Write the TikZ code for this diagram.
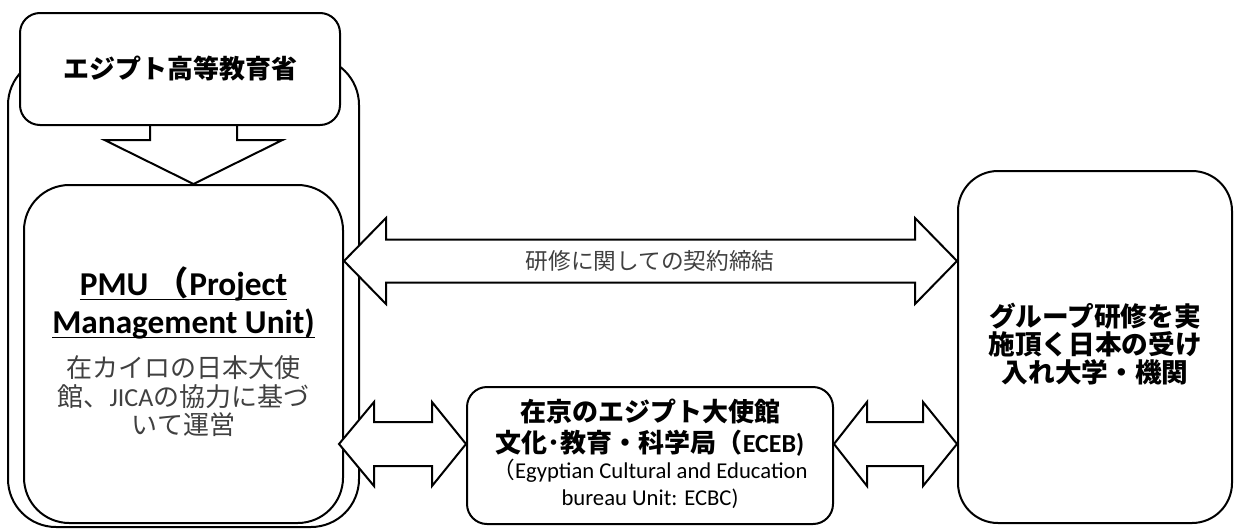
\documentclass[tikz,border=0pt]{standalone}
\usepackage{fontspec}
\setmainfont{Carlito}
\newfontfamily\jp{Noto Sans CJK JP}
\definecolor{txtgray}{HTML}{404040}
\newcommand\myul[1]{\setbox0=\hbox{#1}\rlap{\rule[-3.6pt]{\wd0}{1.3pt}}\box0}
\newcommand\dblarrow[6]{%
  \draw[blockarrow] (#1) -- ([shift={(#3,-#5)}]#1) -- ([shift={(#3,-#6)}]#1)
    -- ([shift={(-#4,-#6)}]#2) -- ([shift={(-#4,-#5)}]#2) -- (#2)
    -- ([shift={(-#4,#5)}]#2) -- ([shift={(-#4,#6)}]#2)
    -- ([shift={(#3,#6)}]#1) -- ([shift={(#3,#5)}]#1) -- cycle;}
\begin{document}
\begin{tikzpicture}[x=0.75pt,y=-0.75pt,
  box/.style={draw=black,line width=1.5pt,fill=white,inner sep=0pt},
  blockarrow/.style={draw=black,line width=1.5pt,fill=white,line join=miter},
  txt/.style={inner sep=0pt,align=center}
]
\useasboundingbox (0,0) rectangle (1234,529);
% outer frame
\node[box,rounded corners=36pt,minimum width=263.25pt,minimum height=352.5pt] (outer) at (183.5,292) {};
% down block arrow
\coordinate (dtop) at (193.5,125);
\coordinate (dtip) at (193.5,184);
\draw[blockarrow] ([shift={(-43.5,0)}]dtop) -- ([shift={(-43.5,15)}]dtop) -- ([shift={(-89,15)}]dtop)
  -- (dtip) -- ([shift={(89,15)}]dtop) -- ([shift={(43.5,15)}]dtop) -- ([shift={(43.5,0)}]dtop);
% ministry
\node[box,rounded corners=15pt,minimum width=240pt,minimum height=84pt,
  font={\jp\bfseries\fontsize{19.5pt}{23pt}\selectfont}] (moe) at (180,69) {エジプト高等教育省};
% PMU box
\node[box,rounded corners=34pt,minimum width=239.25pt,minimum height=253.5pt] (pmu) at (183.5,354) {};
% university box
\node[box,rounded corners=30pt,minimum width=205.5pt,minimum height=264pt,align=center,
  font={\jp\bfseries\fontsize{20pt}{21pt}\selectfont}] (univ) at (1095,347) {};
\node[txt,font={\jp\bfseries\fontsize{20pt}{21pt}\selectfont}] (univtext) at (1095,344)
  {グループ研修を実\\施頂く日本の受け\\入れ大学・機関};
% ECEB box
\node[box,rounded corners=15pt,minimum width=274.5pt,minimum height=102.75pt] (eceb) at (650,455.5) {};
% double arrows
\coordinate (a1) at (pmu.east |- 0,261);
\coordinate (a2) at (univ.west |- 0,261);
\dblarrow{a1}{a2}{42}{42}{43}{21.5}
\coordinate (b1) at (339,444);
\coordinate (b2) at (eceb.west |- 0,444);
\dblarrow{b1}{b2}{35}{34}{42}{22}
\coordinate (c1) at (eceb.east |- 0,444);
\coordinate (c2) at (univ.west |- 0,444);
\dblarrow{c1}{c2}{33}{34}{42}{22}
% texts
\node[txt,text=txtgray,font={\jp\fontsize{17pt}{19pt}\selectfont}] (contract) at (650,261) {研修に関しての契約締結};
\node[txt,font={\bfseries\fontsize{25pt}{28.5pt}\selectfont}] (pmutitle) at (183.5,303)
  {\myul{PMU {\jp（}Project}\\\myul{Management Unit)}};
\node[txt,text=txtgray,font={\jp\fontsize{19.5pt}{21.4pt}\selectfont}] (pmudesc) at (183.5,396.5)
  {在カイロの日本大使\\館、{\rmfamily JICA}の協力に基づ\\いて運営};
\node[txt,font={\jp\bfseries\fontsize{19.5pt}{23.25pt}\selectfont}] (ecebtitle) at (650,427.5)
  {在京のエジプト大使館\\文化･教育・科学局（{\rmfamily ECEB)}};
\node[txt,font={\fontsize{17pt}{20.25pt}\selectfont}] (ecebsub) at (650,483.5)
  {{\jp （}Egyptian Cultural and Education\\bureau Unit: ECBC)};
\end{tikzpicture}
\end{document}
